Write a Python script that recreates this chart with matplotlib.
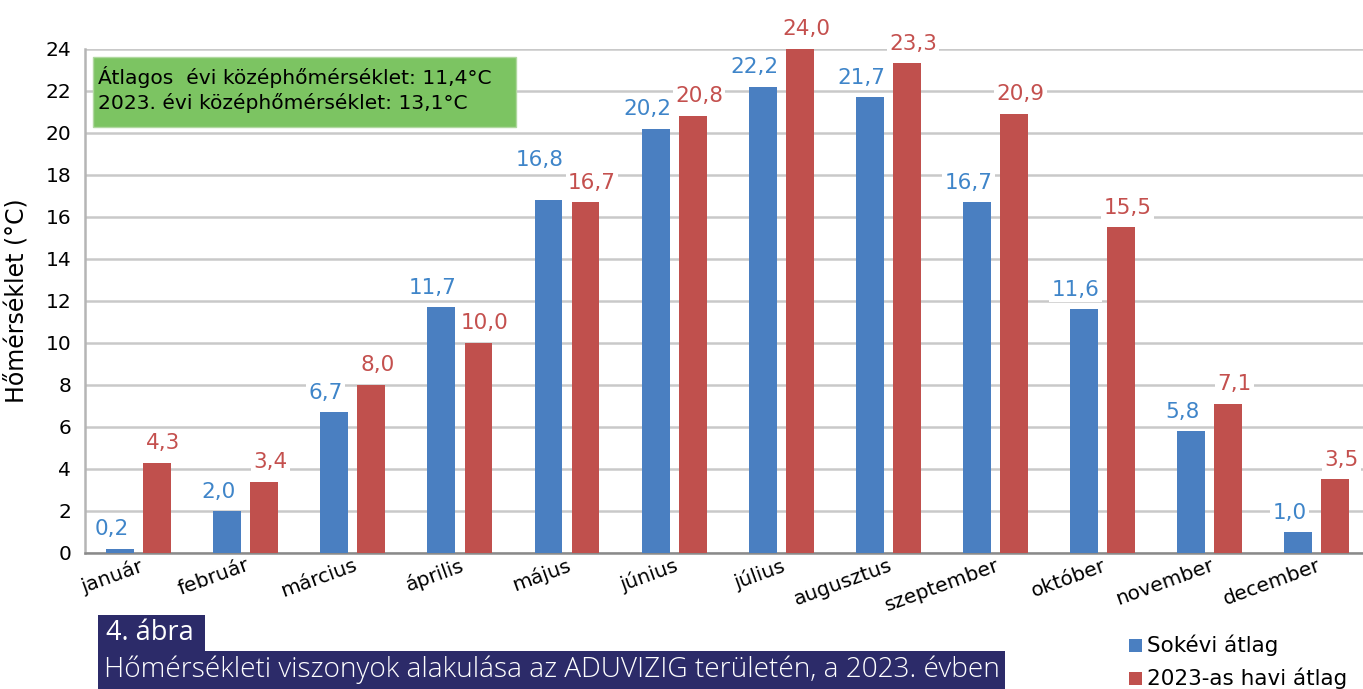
import numpy as np
import matplotlib.pyplot as plt
from matplotlib.patches import Rectangle

# havi középhőmérsékletek (°C)
honapok = ['január', 'február', 'március', 'április', 'május', 'június',
           'július', 'augusztus', 'szeptember', 'október', 'november', 'december']
sokevi = [0.2, 2.0, 6.7, 11.7, 16.8, 20.2, 22.2, 21.7, 16.7, 11.6, 5.8, 1.0]
havi_2023 = [4.3, 3.4, 8.0, 10.0, 16.7, 20.8, 24.0, 23.3, 20.9, 15.5, 7.1, 3.5]
yticks = list(range(0, 25, 2))

BLUE = '#4a7fc1'
RED = '#c0504d'
BLUE_TXT = '#3f85c9'
RED_TXT = '#c4504e'
NAVY = '#2c2b69'

fig = plt.figure(figsize=(13.63, 6.89), dpi=100)
ax = fig.add_axes([0.0624, 0.1974, 0.943, 0.7319])

x = np.arange(len(honapok))
w = 0.26
off = 0.173
ax.bar(x - off, sokevi, w, color=BLUE, zorder=3)
ax.bar(x + off, havi_2023, w, color=RED, zorder=3)

def fmt(v):
    return f'{v:.1f}'.replace('.', ',')

for xi, v, r in zip(x, sokevi, havi_2023):
    # ha a két felirat egymásba érne, a kéket feljebb toljuk
    lift = 1.0 if abs(v - r) < 0.5 else 0.0
    ax.text(xi - off - 0.08, v + 0.45 + lift, fmt(v), ha='center', va='bottom',
            color=BLUE_TXT, fontsize=15.5, zorder=4,
            bbox=dict(facecolor='white', edgecolor='none', pad=1.5))
for xi, v in zip(x, havi_2023):
    ax.text(xi + off + 0.06, v + 0.45, fmt(v), ha='center', va='bottom',
            color=RED_TXT, fontsize=15.5, zorder=4, clip_on=False,
            bbox=dict(facecolor='white', edgecolor='none', pad=1.5))

ax.set_xlim(-0.5, len(honapok) - 0.5)
ax.set_ylim(0, 24)
ax.set_yticks(yticks)
ax.set_yticklabels([str(t) for t in yticks], fontsize=14.5)
ax.tick_params(axis='y', length=0, pad=10)
ax.tick_params(axis='x', length=0, pad=2)
ax.set_xticks(x)
ax.set_xticklabels(honapok, rotation=20, ha='right', rotation_mode='anchor',
                   fontsize=14.5)
ax.grid(axis='y', color='#c9c9c9', linewidth=1.8, zorder=0)
ax.set_axisbelow(True)
for s in ['top', 'right']:
    ax.spines[s].set_visible(False)
ax.spines['left'].set_color('#b5b5b5')
ax.spines['left'].set_linewidth(1.8)
ax.spines['bottom'].set_color('#8a8a8a')
ax.spines['bottom'].set_linewidth(1.8)
ax.set_ylabel('Hőmérséklet (°C)', fontsize=17, labelpad=12)

# zöld információs doboz
fig.patches.append(Rectangle((93 / 1363, 1 - 127 / 689), 423 / 1363, 70 / 689,
                             transform=fig.transFigure, facecolor='#7cc462',
                             edgecolor='#b0d8a0', linewidth=1, zorder=5))
fig.text(98 / 1363, 1 - 77 / 689, 'Átlagos  évi középhőmérséklet: 11,4°C',
         fontsize=14.6, va='center', ha='left', zorder=6)
fig.text(98 / 1363, 1 - 103 / 689, '2023. évi középhőmérséklet: 13,1°C',
         fontsize=14.6, va='center', ha='left', zorder=6)

# ábrafelirat
fig.patches.append(Rectangle((98 / 1363, 1 - 652 / 689), 107 / 1363, 37 / 689,
                             transform=fig.transFigure, facecolor=NAVY,
                             edgecolor='none'))
fig.patches.append(Rectangle((98 / 1363, 0), 907 / 1363, 38 / 689,
                             transform=fig.transFigure, facecolor=NAVY,
                             edgecolor='none'))
fig.text(106 / 1363, 1 - 633 / 689, '4. ábra', color='white', fontsize=19.5,
         family='Open Sans', va='center', ha='left')
fig.text(104 / 1363, 1 - 670 / 689,
         'Hőmérsékleti viszonyok alakulása az ADUVIZIG területén, a 2023. évben',
         color='white', fontsize=20.2, family='Open Sans', weight='light',
         va='center', ha='left')

# jelmagyarázat
for i, (c, t) in enumerate([(BLUE, 'Sokévi átlag'), (RED, '2023-as havi átlag')]):
    yc = 1 - (645 + 33 * i) / 689
    fig.patches.append(Rectangle((1129 / 1363, yc - 6.5 / 689), 13 / 1363, 13 / 689,
                                 transform=fig.transFigure, facecolor=c,
                                 edgecolor='none'))
    fig.text(1147 / 1363, yc, t, fontsize=15.5, va='center', ha='left')

fig.savefig('out.png', dpi=100)
